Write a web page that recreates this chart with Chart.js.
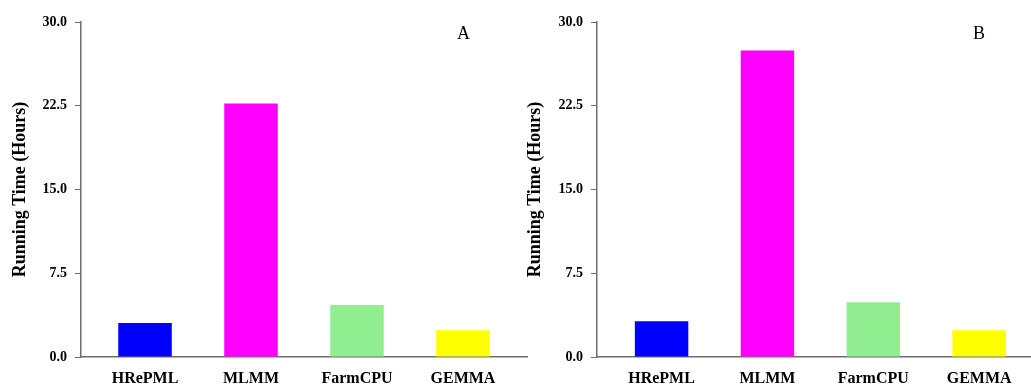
<!DOCTYPE html>
<html>
<head>
<meta charset="utf-8">
<script src="https://cdn.jsdelivr.net/npm/chart.js@4"></script>
<style>
  body { margin: 0; background: #fff; }
  #wrap { position: relative; width: 1031px; height: 385px; overflow: hidden; }
  .panel { position: absolute; top: 0; height: 385px; }
  .tag { position: absolute; top: 23px; font: 18px "Liberation Serif", serif; color: #000; }
</style>
</head>
<body>
<div id="wrap">
  <div class="panel" style="left:0;width:530px"><canvas id="chartA" width="530" height="385"></canvas></div>
  <div class="panel" style="left:515px;width:516px"><canvas id="chartB" width="516" height="385"></canvas></div>
  <div class="tag" style="left:457px">A</div>
  <div class="tag" style="left:973px">B</div>
</div>
<script>
// data
const methods = ["HRePML", "MLMM", "FarmCPU", "GEMMA"];
const timesA = [3.05, 22.7, 4.65, 2.4];
const timesB = [3.2, 27.45, 4.9, 2.4];
const barColors = ["#0000ff", "#ff00ff", "#90ee90", "#ffff00"];
const yTicks = [0, 7.5, 15, 22.5, 30];

const axisGray = "#6e6e6e";
const serif = "'Liberation Serif', 'Times New Roman', serif";

function makeChart(el, values, yWidth, xMin, xMax, padRight) {
  return new Chart(el, {
    type: "bar",
    data: {
      datasets: [
        {
          data: values.map((v, i) => ({ x: i + 1, y: v })),
          backgroundColor: barColors,
          borderWidth: 0,
          categoryPercentage: 1,
          barPercentage: 0.505,
        },
      ],
    },
    options: {
      responsive: false,
      animation: false,
      layout: { padding: { top: 22, right: padRight, left: 0, bottom: 0 } },
      plugins: { legend: { display: false }, tooltip: { enabled: false } },
      scales: {
        x: {
          type: "linear",
          offset: false,
          min: xMin,
          max: xMax,
          grid: { display: false, drawTicks: false },
          border: { display: true, color: axisGray, width: 1.5 },
          afterFit: (s) => { s.height = 28; },
          ticks: {
            stepSize: 1,
            includeBounds: false,
            autoSkip: false,
            maxRotation: 0,
            padding: 12,
            color: "#000",
            font: { family: serif, size: 16, weight: "bold" },
            callback: (v) => (Number.isInteger(v) && v >= 1 && v <= 4 ? methods[v - 1] : ""),
          },
        },
        y: {
          min: 0,
          max: 30,
          afterBuildTicks: (s) => { s.ticks = yTicks.map((v) => ({ value: v })); },
          afterFit: (s) => { s.width = yWidth; },
          grid: { drawOnChartArea: false, tickLength: 6, color: axisGray },
          border: { color: axisGray, width: 1.5 },
          ticks: {
            padding: 8,
            color: "#000",
            font: { family: serif, size: 14, weight: "bold" },
            callback: (v) => v.toFixed(1),
          },
          title: {
            display: true,
            text: "Running Time (Hours)",
            color: "#000",
            padding: { top: 10, bottom: 0 },
            font: { family: serif, size: 18, weight: "bold" },
          },
        },
      },
    },
  });
}

makeChart(document.getElementById("chartA"), timesA, 81, 0.396, 4.604, 3);
makeChart(document.getElementById("chartB"), timesB, 82, 0.39, 4.49, 0);
</script>
</body>
</html>
